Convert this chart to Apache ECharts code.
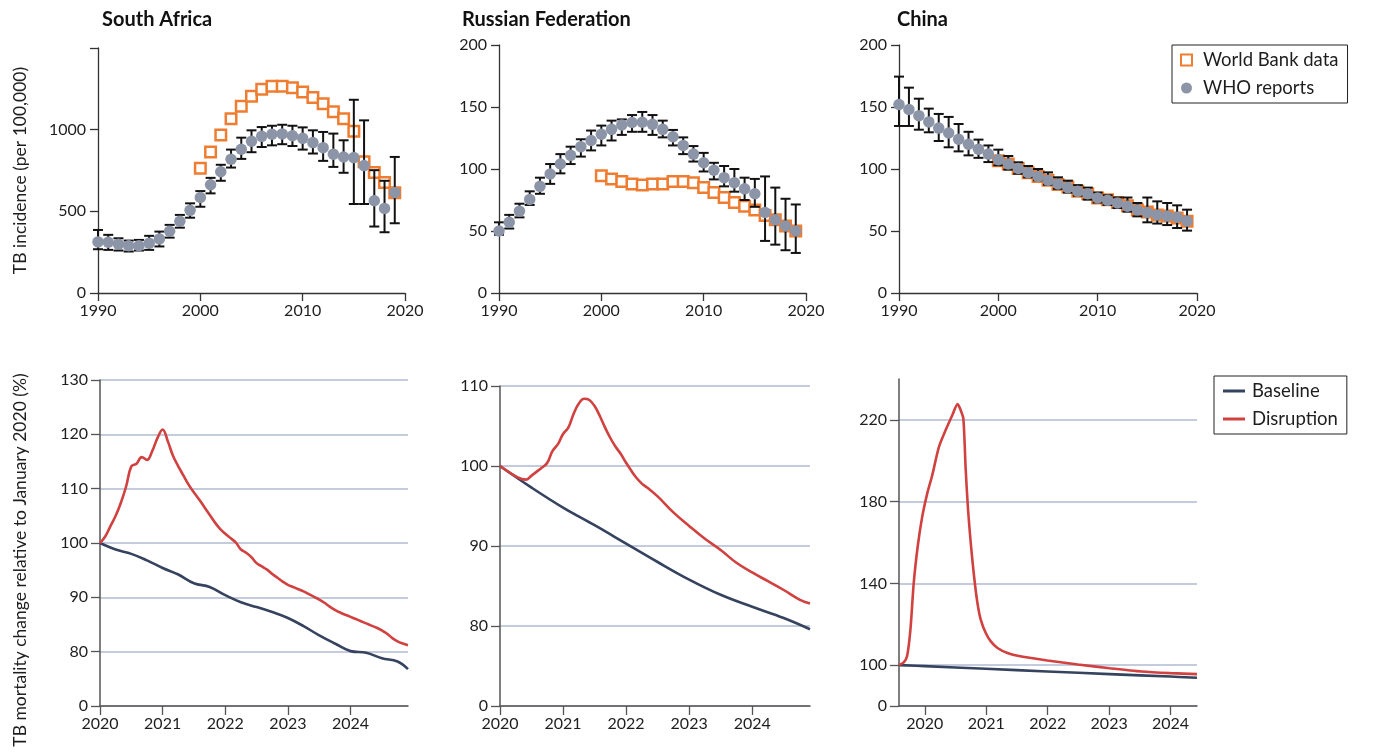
<!DOCTYPE html>
<html>
<head>
<meta charset="utf-8">
<title>TB incidence and mortality</title>
<script src="https://cdn.jsdelivr.net/npm/echarts@6/dist/echarts.min.js"></script>
</head>
<body style="margin:0;padding:0;background:#ffffff;">
<div id="main" style="width:1375px;height:752px;"></div>
<script>
// ---------- top row: TB incidence per 100,000 ----------
var years = [1990,1991,1992,1993,1994,1995,1996,1997,1998,1999,2000,2001,2002,2003,2004,
             2005,2006,2007,2008,2009,2010,2011,2012,2013,2014,2015,2016,2017,2018,2019];
var wbYears = [2000,2001,2002,2003,2004,2005,2006,2007,2008,2009,
               2010,2011,2012,2013,2014,2015,2016,2017,2018,2019];

var saWho   = [313,311,299,289,289,305,331,378,439,506,585,663,742,819,880,929,959,972,974,963,947,921,890,850,833,829,780,565,518,616];
var saWhoLo = [268,264,260,254,260,264,285,339,400,461,528,610,687,768,821,862,894,904,911,900,878,854,809,772,736,545,545,407,372,427];
var saWhoHi = [386,356,335,321,325,350,376,417,478,549,624,705,785,878,951,996,1016,1024,1030,1024,1014,996,986,976,935,1183,1057,752,687,833];
var saWb    = [764,864,967,1067,1144,1205,1248,1266,1266,1256,1230,1197,1159,1110,1067,990,803,738,677,614];

var ruWho   = [50,57,66,75.5,86,96,104,111,118,123,128,132,135.5,137.5,137.7,136,132,126,119,112,105,99,93,89,84,80,65,59,54,50];
var ruWhoLo = [47,52,61,71,80,88,96.5,104,110,115,119,123,127.5,130,130,127.5,125.5,119,112,106,98,91.6,86,81.7,75,69.5,42,39,34.5,32.3];
var ruWhoHi = [57,63,72,82,93,104,112,118,124,131,135,139,140,143.5,146,143.5,139,131.5,125.5,118.5,113,105,102.4,100,93,92,94,85,76,71.4];
var ruWb    = [94.6,92,90,88,87,88,88,90,90,89,85,81,77,73,70,67,62.5,59,54,50];

var cnWho   = [152,148,143,138,133,129,124,120,116,112,107.5,104,100.5,97,94,91,88,85,82,80,76.6,74.7,72.6,70,67,65,63,62,61,58];
var cnWhoLo = [134.7,134.7,131.7,129.6,122.6,117.5,114.2,111,109,105.6,103,99.5,96.2,93.3,90.9,87.4,84,81,78.5,75.3,73,71,68.5,65.6,61.8,57,56,54.8,52.4,50.3];
var cnWhoHi = [174.5,165.6,156.7,148.7,144.4,142,136.3,130,123.7,119,115.6,110.5,105.4,102.4,100,97.3,93.3,90.6,87,85,81,78.8,77,77,72.6,77,73.9,72.6,70.7,67.2];
var cnWb    = [106.7,104,100.5,97,94,91,87.6,85.5,82,80,76.6,75.3,73,70.4,67,65.3,63,62,60.5,57.8];

// ---------- bottom row: TB mortality change relative to Jan 2020 (%) ----------
// months after January 2020
var saDisMonth = [0,1,2,3,4,5,6,7,8,9,10,11,12,13,14,15,16,17,18,19,20,21,22,23,24,25,26,27,28,29,
                  30,31,32,33,34,35,36,37,38,39,40,41,42,43,44,45,46,47,48,49,50,51,52,53,54,55,56,57,58,59];
var saDis = [100,101.2,103.1,105,107.4,110.4,114.1,114.6,115.8,115.3,116.9,119.3,120.9,118.7,116,114.1,112.4,110.7,109.3,108,
             106.6,105.2,103.8,102.6,101.7,100.9,100.1,98.8,98.2,97.4,96.3,95.7,95.1,94.3,93.6,92.9,92.3,91.9,91.5,91.1,
             90.6,90.1,89.6,89,88.3,87.7,87.2,86.8,86.4,86,85.6,85.2,84.8,84.4,83.9,83.3,82.5,81.9,81.5,81.2];
var saBaseMonth = [0,3,6,9,12,15,18,21,24,27,30,33,36,39,42,45,48,51,54,57,59];
var saBase = [100,98.8,98.0,96.8,95.4,94.2,92.6,91.9,90.4,89.1,88.2,87.3,86.2,84.7,83.0,81.5,80.1,79.8,78.8,78.2,76.8];

var ruDisMonth = [0,2,4,5,6,7,8,9,10,11,12,13,14,15,16,17,18,19,20,21,22,23,24,25,26,27,28,30,33,36,39,42,45,48,51,54,57,59];
var ruDis = [100,99.1,98.4,98.3,98.8,99.3,99.8,100.4,101.9,102.7,104.0,104.8,106.5,107.8,108.4,108.25,107.5,106.25,104.8,103.5,
             102.4,101.5,100.4,99.4,98.5,97.8,97.3,96.2,94.2,92.5,90.9,89.5,87.9,86.7,85.6,84.5,83.3,82.8];
var ruBaseMonth = [0,6,12,18,24,30,36,42,48,54,59];
var ruBase = [100,97.3,94.8,92.6,90.3,88.0,85.8,83.9,82.4,81.0,79.6];

// China panel is plotted against decimal years
var cnDisX = [2019.58,2019.657,2019.711,2019.766,2019.82,2019.886,2019.956,2020.038,2020.12,2020.229,2020.338,2020.447,
              2020.534,2020.583,2020.627,2020.665,2020.703,2020.747,2020.801,2020.856,2020.91,2020.992,2021.074,2021.183,
              2021.346,2021.51,2021.995,2022.49,2023.008,2023.526,2024.0,2024.43];
var cnDis = [100,101.3,104.3,117.4,140.3,158.4,172.3,183.8,192.8,206.7,214.9,222.3,
             227.7,224.8,220.7,196,176.4,160,143.6,130.5,122.3,115.7,111.6,108.4,
             105.9,104.6,102.3,100.3,98.5,96.9,96.1,95.6];
var cnBaseX = [2019.58,2020.0,2020.992,2021.995,2023.008,2024.0,2024.43];
var cnBase = [100,99.5,98.2,96.9,95.6,94.4,93.8];

var bottomYears = [2020,2021,2022,2023,2024];

var ORANGE = '#ef7d31', GREY = '#8c95a8', NAVY = '#35435f', RED = '#d0413f';
var FONT = 'Lato';

function pairs(xs, ys) {
    var out = [];
    for (var i = 0; i < xs.length; i++) out.push([xs[i], ys[i]]);
    return out;
}
function monthPairs(ms, ys) {
    var out = [];
    for (var i = 0; i < ms.length; i++) out.push([2020 + ms[i] / 12, ys[i]]);
    return out;
}
function rangeTriples(xs, lo, hi) {
    var out = [];
    for (var i = 0; i < xs.length; i++) out.push([xs[i], lo[i], hi[i]]);
    return out;
}
// vertical whisker with caps
function errorBar(params, api) {
    var x = api.value(0);
    var pLo = api.coord([x, api.value(1)]);
    var pHi = api.coord([x, api.value(2)]);
    var h = 5;
    var st = { stroke: '#111111', lineWidth: 2 };
    return {
        type: 'group',
        children: [
            { type: 'line', shape: { x1: pHi[0], y1: pHi[1], x2: pLo[0], y2: pLo[1] }, style: st },
            { type: 'line', shape: { x1: pHi[0] - h, y1: pHi[1], x2: pHi[0] + h, y2: pHi[1] }, style: st },
            { type: 'line', shape: { x1: pLo[0] - h, y1: pLo[1], x2: pLo[0] + h, y2: pLo[1] }, style: st }
        ]
    };
}
function plainNum(v) { return String(v); }

var axisLineStyle = { color: '#333333', width: 1.3 };
var labelStyle = { fontFamily: FONT, fontSize: 16, color: '#1e1e1e' };

function topX(idx) {
    return {
        type: 'value', gridIndex: idx, min: 1990, max: 2020, interval: 10,
        axisLine: { lineStyle: axisLineStyle },
        axisTick: { length: 8, lineStyle: axisLineStyle },
        axisLabel: Object.assign({ formatter: plainNum, margin: 10 }, labelStyle),
        splitLine: { show: false }
    };
}
function topY(idx, max, interval, hideTop) {
    return {
        type: 'value', gridIndex: idx, min: 0, max: max, interval: interval,
        axisLine: { show: true, lineStyle: axisLineStyle },
        axisTick: { show: true, length: 8, lineStyle: axisLineStyle },
        axisLabel: Object.assign({
            margin: 12,
            formatter: function (v) { return (hideTop && v === max) ? '' : String(v); }
        }, labelStyle),
        splitLine: { show: false }
    };
}
function bottomX(idx, min, max) {
    return {
        type: 'value', gridIndex: idx, min: min, max: max,
        axisLine: { lineStyle: { color: '#555555', width: 1.5 } },
        axisTick: { length: 9, customValues: bottomYears, lineStyle: { color: '#555555', width: 1.3 } },
        axisLabel: Object.assign({ customValues: bottomYears, formatter: plainNum, margin: 10 }, labelStyle),
        splitLine: { show: false }
    };
}
function bottomY(idx, min, max, interval, ticks) {
    var ax = {
        type: 'value', gridIndex: idx, min: min, max: max,
        axisLine: { show: true, lineStyle: { color: '#555555', width: 1.5 } },
        axisTick: { show: true, length: 9, lineStyle: { color: '#555555', width: 1.3 } },
        axisLabel: Object.assign({
            margin: 12,
            formatter: function (v) { return v === min ? '0' : String(v); }
        }, labelStyle),
        splitLine: { show: true, lineStyle: { color: '#b1bad0', width: 1.5 } }
    };
    if (ticks) {
        ax.axisTick.customValues = ticks;
        ax.axisLabel.customValues = ticks;
    } else {
        ax.interval = interval;
    }
    return ax;
}

function wbSeries(idx, data) {
    return {
        name: 'World Bank data', type: 'scatter', xAxisIndex: idx, yAxisIndex: idx, z: 2,
        symbol: 'rect', symbolSize: 10.5,
        itemStyle: { color: '#ffffff', borderColor: ORANGE, borderWidth: 2.5, opacity: 1 },
        data: data
    };
}
function whoSeries(idx, data) {
    return {
        name: 'WHO reports', type: 'scatter', xAxisIndex: idx, yAxisIndex: idx, z: 4,
        symbol: 'circle', symbolSize: 11.5,
        itemStyle: { color: GREY, opacity: 1 },
        data: data
    };
}
function errSeries(idx, data) {
    return {
        name: 'WHO range', type: 'custom', xAxisIndex: idx, yAxisIndex: idx, z: 3,
        renderItem: errorBar, encode: { x: 0, y: [1, 2] }, data: data
    };
}
function lineSeries(name, color, idx, data, smooth) {
    return {
        name: name, type: 'line', xAxisIndex: idx, yAxisIndex: idx,
        showSymbol: false, symbol: 'none', smooth: smooth,
        lineStyle: { color: color, width: 2.6 }, itemStyle: { color: color },
        data: data
    };
}

var titleFont = { fontFamily: FONT, fontSize: 20, fontWeight: 'bold', color: '#111111' };
var chart = echarts.init(document.getElementById('main'));
var option = {
    backgroundColor: '#ffffff',
    animation: false,
    textStyle: { fontFamily: FONT },
    title: [
        { text: 'South Africa', left: 97, top: 5, textStyle: titleFont },
        { text: 'Russian Federation', left: 457, top: 5, textStyle: titleFont },
        { text: 'China', left: 892, top: 5, textStyle: titleFont }
    ],
    legend: [
        {
            left: 1172, top: 45, orient: 'vertical',
            backgroundColor: '#ffffff', borderColor: '#222222', borderWidth: 1,
            padding: [4, 9, 4, 8], itemGap: 6, itemWidth: 11, itemHeight: 11,
            textStyle: { fontFamily: FONT, fontSize: 18.5, lineHeight: 22, color: '#1e1e1e', padding: [0, 0, 0, 6] },
            data: [
                { name: 'World Bank data', icon: 'rect' },
                { name: 'WHO reports', icon: 'circle' }
            ]
        },
        {
            left: 1214, top: 376, orient: 'vertical',
            backgroundColor: '#ffffff', borderColor: '#222222', borderWidth: 1,
            padding: [4, 9, 4, 9], itemGap: 6, itemWidth: 22, itemHeight: 3,
            textStyle: { fontFamily: FONT, fontSize: 18.5, lineHeight: 22, color: '#1e1e1e', padding: [0, 0, 0, 2] },
            data: [
                { name: 'Baseline', icon: 'rect' },
                { name: 'Disruption', icon: 'rect' }
            ]
        }
    ],
    graphic: [
        {
            type: 'text', x: 20, y: 560, rotation: Math.PI / 2,
            style: {
                text: 'TB mortality change relative to January 2020 (%)',
                font: '17.5px Lato', fill: '#1e1e1e',
                textAlign: 'center', textVerticalAlign: 'middle',
                align: 'center', verticalAlign: 'middle'
            }
        }
    ],
    grid: [
        { left: 98, top: 48, width: 307, height: 245 },
        { left: 499, top: 45, width: 307, height: 248 },
        { left: 899, top: 45, width: 298, height: 248 },
        { left: 100, top: 380, width: 308, height: 326 },
        { left: 500, top: 386, width: 310, height: 320 },
        { left: 899, top: 379, width: 298, height: 327 }
    ],
    xAxis: [
        topX(0), topX(1), topX(2),
        bottomX(3, 2020, 2024.917), bottomX(4, 2020, 2024.917), bottomX(5, 2019.58, 2024.43)
    ],
    yAxis: [
        Object.assign(topY(0, 1500, 500, true), {
            name: 'TB incidence (per 100,000)', nameLocation: 'middle', nameGap: 69,
            nameTextStyle: { fontFamily: FONT, fontSize: 17.5, color: '#1e1e1e' }
        }),
        topY(1, 200, 50, false),
        topY(2, 200, 50, false),
        bottomY(3, 70, 130, 10),
        bottomY(4, 70, 110, 10),
        bottomY(5, 80, 240, null, [80, 100, 140, 180, 220])
    ],
    series: [
        wbSeries(0, pairs(wbYears, saWb)),
        errSeries(0, rangeTriples(years, saWhoLo, saWhoHi)),
        whoSeries(0, pairs(years, saWho)),
        wbSeries(1, pairs(wbYears, ruWb)),
        errSeries(1, rangeTriples(years, ruWhoLo, ruWhoHi)),
        whoSeries(1, pairs(years, ruWho)),
        wbSeries(2, pairs(wbYears, cnWb)),
        errSeries(2, rangeTriples(years, cnWhoLo, cnWhoHi)),
        whoSeries(2, pairs(years, cnWho)),
        lineSeries('Baseline', NAVY, 3, monthPairs(saBaseMonth, saBase), 0.4),
        lineSeries('Disruption', RED, 3, monthPairs(saDisMonth, saDis), 0.4),
        lineSeries('Baseline', NAVY, 4, monthPairs(ruBaseMonth, ruBase), 0.4),
        lineSeries('Disruption', RED, 4, monthPairs(ruDisMonth, ruDis), 0.4),
        lineSeries('Baseline', NAVY, 5, pairs(cnBaseX, cnBase), 0.4),
        lineSeries('Disruption', RED, 5, pairs(cnDisX, cnDis), 0.25)
    ]
};
chart.setOption(option);
</script>
</body>
</html>
